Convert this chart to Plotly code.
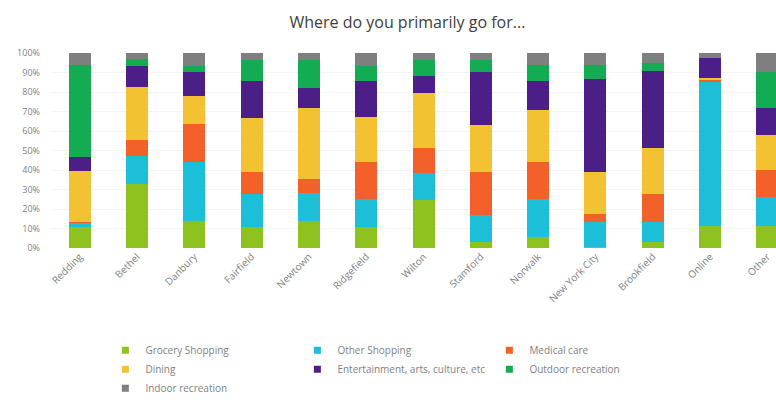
import plotly.graph_objects as go

categories = ["Redding", "Bethel", "Danbury", "Fairfield", "Newtown", "Ridgefield",
              "Wilton", "Stamford", "Norwalk", "New York City", "Brookfield", "Online", "Other"]

grocery = [11.0, 33.0, 13.7, 11.0, 14.1, 11.0, 24.7, 2.9, 5.5, 0.5, 2.9, 11.5, 11.5]
other_shopping = [2.2, 14.0, 30.5, 16.8, 14.1, 14.3, 13.8, 13.8, 19.8, 12.7, 10.3, 73.9, 14.6]
medical = [0.3, 8.3, 19.2, 11.2, 7.4, 18.9, 13.0, 22.3, 18.9, 4.3, 14.6, 1.0, 14.1]
dining = [26.0, 27.5, 14.6, 27.8, 36.0, 23.2, 28.2, 24.0, 26.6, 21.5, 23.7, 0.7, 17.7]
entertainment = [7.2, 10.7, 12.5, 18.6, 10.7, 18.0, 8.3, 27.5, 14.6, 47.6, 39.5, 10.3, 13.7]
outdoor = [47.3, 3.4, 2.6, 10.8, 14.3, 8.1, 8.2, 5.7, 8.6, 7.4, 3.8, 0.0, 18.9]
indoor = [6.0, 3.1, 6.9, 3.8, 3.4, 6.5, 3.8, 3.8, 6.0, 6.0, 5.2, 2.6, 9.5]

series = [
    ("Grocery Shopping", grocery, "#8DC21F"),
    ("Other Shopping", other_shopping, "#1DBFD8"),
    ("Medical care", medical, "#F4602A"),
    ("Dining", dining, "#F2C232"),
    ("Entertainment, arts, culture, etc", entertainment, "#4B1E88"),
    ("Outdoor recreation", outdoor, "#14AC52"),
    ("Indoor recreation", indoor, "#7F7F7F"),
]

fig = go.Figure()
for name, vals, color in series:
    fig.add_trace(go.Bar(x=categories, y=[v / 100 for v in vals], name=name,
                         legendgroup=name, showlegend=False,
                         marker=dict(color=color, line=dict(width=0))))
# legend entries with small square symbols
for name, vals, color in series:
    fig.add_trace(go.Scatter(x=[None], y=[None], mode="markers", name=name,
                             legendgroup=name,
                             marker=dict(symbol="square", size=7, color=color)))

fig.update_layout(
    width=776, height=402,
    barmode="stack", bargap=0.616,
    paper_bgcolor="white", plot_bgcolor="white",
    font=dict(family="Open Sans, sans-serif", color="#595959", size=9),
    title=dict(text="Where do you primarily go for...", x=0.525, xanchor="center",
               y=0.945, yanchor="middle",
               font=dict(size=16, color="#404040")),
    margin=dict(l=51, r=0, t=53, b=154),
    xaxis=dict(range=[-0.5, 12.15], tickangle=-45, showgrid=False, showline=False,
               ticks="", tickfont=dict(size=10, color="#7f7f7f")),
    yaxis=dict(range=[0, 1.0], tickformat=".0%", dtick=0.1, showgrid=True,
               gridcolor="#f4f4f4", zeroline=False, ticks="", ticklabelstandoff=10,
               tickfont=dict(size=9, color="#7f7f7f")),
    legend=dict(orientation="h", x=0.075, xanchor="left", yref="container",
                y=0.165, yanchor="top",
                traceorder="normal", entrywidth=147, entrywidthmode="pixels",
                font=dict(size=10, color="#7f7f7f"), itemwidth=30),
)

fig.write_html("out.html")
